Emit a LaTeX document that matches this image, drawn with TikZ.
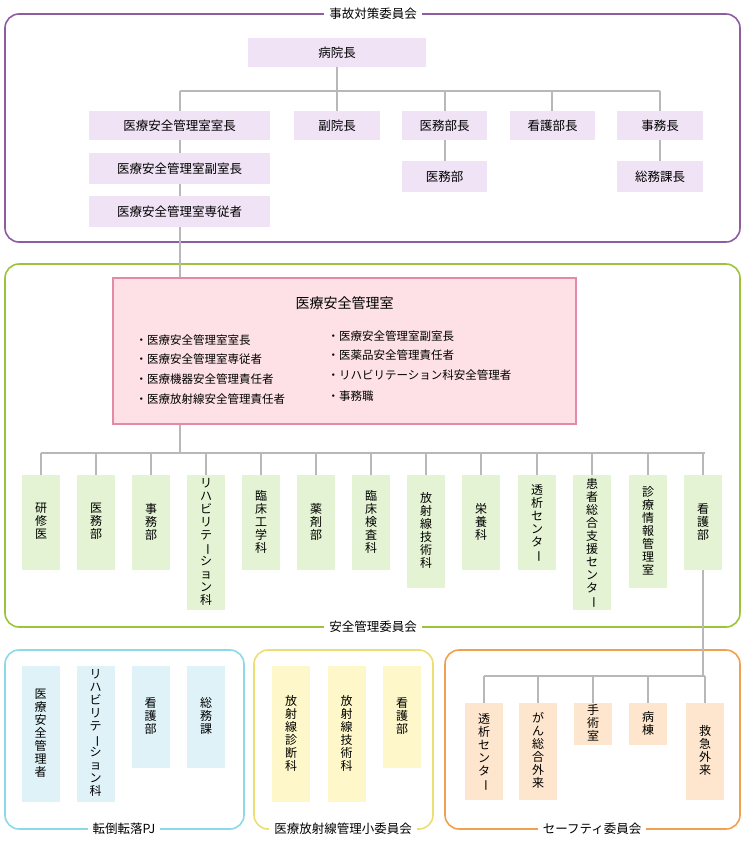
\documentclass[tikz,border=0pt]{standalone}
\usepackage{fontspec}
\setmainfont{Noto Sans CJK JP}
\usepackage{graphicx}
\newcommand{\dsh}{\smash{\rotatebox[origin=c]{-90}{ー}}}
\begin{document}
\begin{tikzpicture}[x=1pt,y=-1pt,
  font=\fontsize{12.5}{18.5}\selectfont,
  grp/.style={draw=#1,line width=1.6pt,rounded corners=14pt},
  ttl/.style={fill=white,inner xsep=5pt,inner ysep=1pt,font=\fontsize{12.5}{14}\selectfont},
  ln/.style={draw=black!28,line width=1.5pt},
  hbox/.style={fill=#1,draw=none,inner sep=0pt},
  vbox/.style={fill=#1,draw=none,inner sep=0pt,minimum width=38pt,anchor=north}]
\useasboundingbox (0,0) rectangle (745,841);
\definecolor{cpur}{HTML}{8E5CA0}\definecolor{cpurf}{HTML}{EFE3F5}
\definecolor{cgrn}{HTML}{9DC33B}\definecolor{cgrnf}{HTML}{E4F3D3}
\definecolor{cblu}{HTML}{8DD8EA}\definecolor{cbluf}{HTML}{DFF2F7}
\definecolor{cyel}{HTML}{ECDE71}\definecolor{cyelf}{HTML}{FDF7C9}
\definecolor{cor}{HTML}{F0A050}\definecolor{corf}{HTML}{FDE6CD}
\definecolor{cpk}{HTML}{E58AA6}\definecolor{cpkf}{HTML}{FDE1E6}
\newcommand{\hb}[6]{\node[hbox=#6,minimum width=#4pt-#2pt,minimum height=#5pt-#3pt] (#1) at ({(#2+#4)/2},{(#3+#5)/2}) {};}
\newcommand{\vb}[6]{\node[vbox=#5,minimum height=#4pt-#3pt] (#1) at (#2,#3) {};
  \node[align=center,inner sep=0pt,font=\fontsize{12}{13}\selectfont] at ([yshift=1pt]#1.center) {#6};}
% groups
\draw[grp=cpur] (5,14) rectangle (740,242);
\node[ttl] (t1) at (373,14) {事故対策委員会};
\draw[grp=cgrn] (5,264) rectangle (740,627);
\node[ttl] (t2) at (373,627) {安全管理委員会};
\draw[grp=cblu] (5,650) rectangle (244,829);
\node[ttl] (t3) at (124,829) {転倒転落PJ};
\draw[grp=cyel] (254,650) rectangle (433,829);
\node[ttl] (t4) at (343,829) {医療放射線管理小委員会};
\draw[grp=cor] (445,650) rectangle (740,829);
\node[ttl] (t5) at (592,829) {セーフティ委員会};
% top lines
\coordinate (h1) at (180,91); \coordinate (h2) at (660,91);
\draw[ln] (h1) -- (h2);
\draw[ln] (337,67) -- (337,91);
\foreach \x in {180,337,445,552,660}{\draw[ln] (\x,91) -- (\x,111);}
\draw[ln] (445,140) -- (445,161);
\draw[ln] (660,140) -- (660,161);
\draw[ln] (180,140) -- (180,278);
% top boxes
\hb{a}{248}{38}{426}{67}{cpurf}\node at (a) {病院長};
\hb{b1}{89}{111}{270}{140}{cpurf}\node at (b1) {医療安全管理室室長};
\hb{b2}{294}{111}{380}{140}{cpurf}\node at (b2) {副院長};
\hb{b3}{402}{111}{487}{140}{cpurf}\node at (b3) {医務部長};
\hb{b4}{510}{111}{595}{140}{cpurf}\node at (b4) {看護部長};
\hb{b5}{617}{111}{703}{140}{cpurf}\node at (b5) {事務長};
\hb{c1}{89}{153}{270}{184}{cpurf}\node at (c1) {医療安全管理室副室長};
\hb{c2}{402}{161}{487}{192}{cpurf}\node at (c2) {医務部};
\hb{c3}{617}{161}{703}{192}{cpurf}\node at (c3) {総務課長};
\hb{d1}{89}{196}{270}{227}{cpurf}\node at (d1) {医療安全管理室専従者};
% pink
\draw[ln] (180,424) -- (180,453);
\draw[ln] (41,453) -- (705,453);
\node[fill=cpkf,draw=cpk,line width=1.2pt,minimum width=463pt,minimum height=146pt,inner sep=0pt] (p) at (344.5,351) {};
\node[font=\fontsize{14}{16}\selectfont] at (344.5,303) {医療安全管理室};
\begin{scope}[font=\fontsize{11.5}{13}\selectfont]
\node[anchor=west] at (132,340) {・医療安全管理室室長};
\node[anchor=west] at (132,359) {・医療安全管理室専従者};
\node[anchor=west] at (132,379) {・医療機器安全管理責任者};
\node[anchor=west] at (132,399) {・医療放射線安全管理責任者};
\node[anchor=west] at (324,336) {・医療安全管理室副室長};
\node[anchor=west] at (324,355) {・医薬品安全管理責任者};
\node[anchor=west] at (324,375) {・リハビリテーション科安全管理者};
\node[anchor=west] at (324,396) {・事務職};
\end{scope}
\foreach \x in {41,96,151,206,261,316,371,426,481,537,592,648,703}{\draw[ln] (\x,453) -- (\x,475);}
\vb{g1}{41}{475}{570}{cgrnf}{研\\修\\医}
\vb{g2}{96}{475}{570}{cgrnf}{医\\務\\部}
\vb{g3}{151}{475}{570}{cgrnf}{事\\務\\部}
\vb{g4}{206}{475}{610}{cgrnf}{リ\\ハ\\ビ\\リ\\テ\\\dsh\\シ\\ョ\\ン\\科}
\vb{g5}{261}{475}{570}{cgrnf}{臨\\床\\工\\学\\科}
\vb{g6}{316}{475}{570}{cgrnf}{薬\\剤\\部}
\vb{g7}{371}{475}{570}{cgrnf}{臨\\床\\検\\査\\科}
\vb{g8}{426}{475}{588}{cgrnf}{放\\射\\線\\技\\術\\科}
\vb{g9}{481}{475}{570}{cgrnf}{栄\\養\\科}
\vb{g10}{537}{475}{570}{cgrnf}{透\\析\\セ\\ン\\タ\\\dsh}
\vb{g11}{592}{475}{610}{cgrnf}{患\\者\\総\\合\\支\\援\\セ\\ン\\タ\\\dsh}
\vb{g12}{648}{475}{588}{cgrnf}{診\\療\\情\\報\\管\\理\\室}
\vb{g13}{703}{475}{570}{cgrnf}{看\\護\\部}
% orange lines
\draw[ln] (g13.south) -- (703,676);
\draw[ln] (484,676) -- (705,676);
\foreach \x in {484,538,593,648,705}{\draw[ln] (\x,676) -- (\x,703);}
% blue
\vb{u1}{40.5}{666}{802}{cbluf}{医\\療\\安\\全\\管\\理\\者}
\vb{u2}{95.5}{666}{802}{cbluf}{リ\\ハ\\ビ\\リ\\テ\\\dsh\\シ\\ョ\\ン\\科}
\vb{u3}{150.5}{666}{768}{cbluf}{看\\護\\部}
\vb{u4}{206}{666}{768}{cbluf}{総\\務\\課}
% yellow
\vb{y1}{291}{666}{802}{cyelf}{放\\射\\線\\診\\断\\科}
\vb{y2}{346.5}{666}{802}{cyelf}{放\\射\\線\\技\\術\\科}
\vb{y3}{402}{666}{768}{cyelf}{看\\護\\部}
% orange
\vb{o1}{484}{703}{800}{corf}{透\\析\\セ\\ン\\タ\\\dsh}
\vb{o2}{538}{703}{800}{corf}{が\\ん\\総\\合\\外\\来}
\vb{o3}{593}{703}{745}{corf}{手\\術\\室}
\vb{o4}{648}{703}{745}{corf}{病\\棟}
\vb{o5}{705}{703}{800}{corf}{救\\急\\外\\来}
\end{tikzpicture}
\end{document}
